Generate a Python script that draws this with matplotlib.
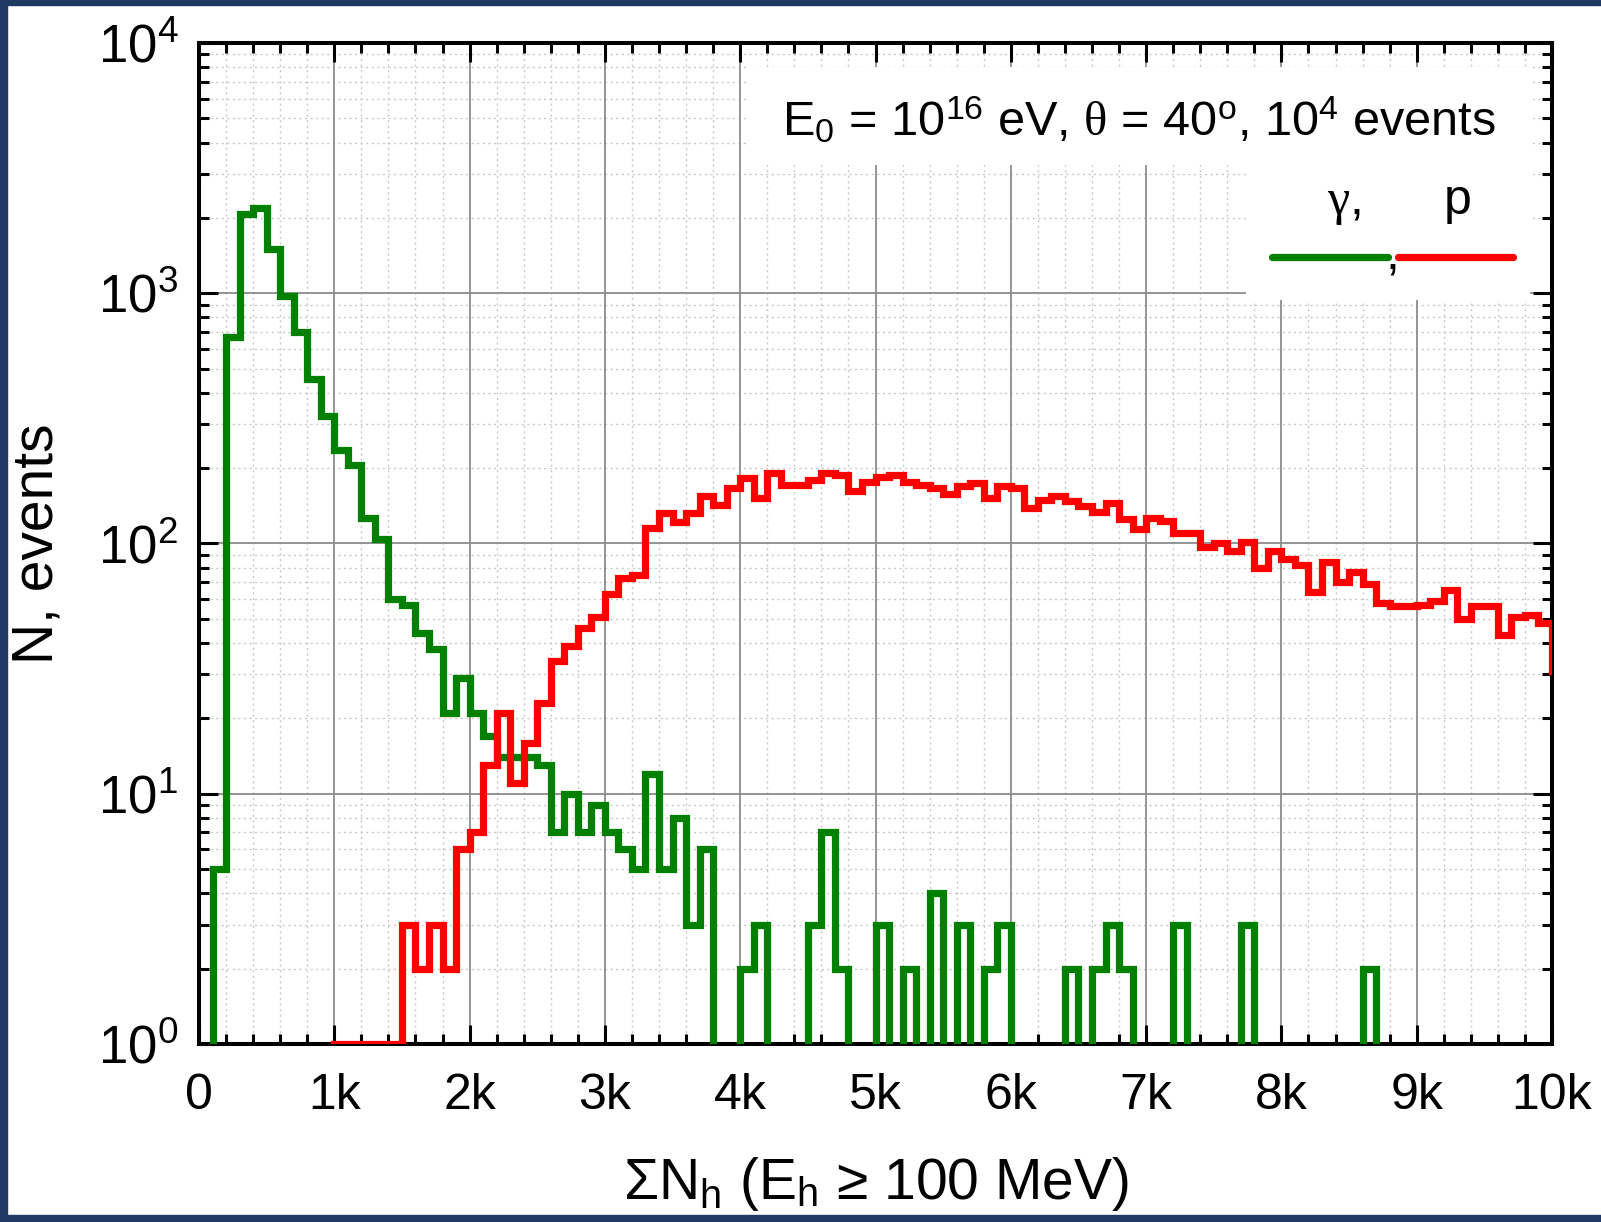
#!/usr/bin/env python3
# Distribution of hadron number sum for gamma and proton showers (log histogram).

import numpy as np
import matplotlib

matplotlib.use("Agg")
import matplotlib.pyplot as plt
from matplotlib.patches import Rectangle
from matplotlib.lines import Line2D
from matplotlib.ticker import FixedLocator, MultipleLocator, LogLocator, NullFormatter

plt.rcParams["font.family"] = ["Liberation Sans", "DejaVu Sans"]
plt.rcParams["mathtext.fontset"] = "custom"
plt.rcParams["mathtext.rm"] = "Liberation Sans"
plt.rcParams["mathtext.it"] = "Liberation Serif"
plt.rcParams["mathtext.bf"] = "Liberation Sans:bold"

# ---- data: counts per 100-wide bin, starting at 0 -----------------------
BIN_WIDTH = 100

gamma_counts = [
    0, 5, 670, 2080, 2190, 1500, 975, 700, 455, 324,          # 0 - 1k
    237, 205, 127, 104, 60, 57, 44, 38, 21, 29,                # 1k - 2k
    21, 17, 14, 14, 14, 13, 7, 10, 7, 9,                       # 2k - 3k
    7, 6, 5, 12, 5, 8, 3, 6, 0, 0,                             # 3k - 4k
    2, 3, 0, 0, 0, 3, 7, 2, 0, 0,                              # 4k - 5k
    3, 0, 2, 0, 4, 0, 3, 0, 2, 3,                              # 5k - 6k
    0, 0, 0, 0, 2, 0, 2, 3, 2, 0,                              # 6k - 7k
    0, 0, 3, 0, 0, 0, 0, 3, 0, 0,                              # 7k - 8k
    0, 0, 0, 0, 0, 0, 2, 0, 0, 0,                              # 8k - 9k
    0, 0, 0, 0, 0, 0, 0, 0, 0, 0,                              # 9k - 10k
    0,
]

proton_counts = [
    0, 0, 0, 0, 0, 0, 0, 0, 0, 0,                              # 0 - 1k
    1, 1, 1, 1, 1, 3, 2, 3, 2, 6,                              # 1k - 2k
    7, 13, 21, 11, 16, 23, 34, 39, 46, 51,                     # 2k - 3k
    63, 73, 75, 115, 132, 122, 132, 155, 143, 167,             # 3k - 4k
    183, 152, 191, 171, 172, 179, 192, 187, 162, 176,          # 4k - 5k
    185, 187, 176, 171, 167, 158, 169, 174, 152, 169,          # 5k - 6k
    167, 139, 149, 155, 148, 141, 133, 145, 125, 114,          # 6k - 7k
    127, 123, 110, 110, 97, 100, 93, 101, 80, 93,              # 7k - 8k
    87, 82, 64, 84, 70, 77, 69, 58, 56, 56,                    # 8k - 9k
    57, 59, 65, 50, 56, 56, 43, 51, 52, 48,                    # 9k - 10k
    31,
]

x_tick_values = [0, 1000, 2000, 3000, 4000, 5000, 6000, 7000, 8000, 9000, 10000]
x_tick_labels = ["0", "1k", "2k", "3k", "4k", "5k", "6k", "7k", "8k", "9k", "10k"]
y_tick_values = [1, 10, 100, 1000, 10000]
y_tick_labels = [r"$\mathrm{10^{0}}$", r"$\mathrm{10^{1}}$", r"$\mathrm{10^{2}}$",
                 r"$\mathrm{10^{3}}$", r"$\mathrm{10^{4}}$"]

GREEN = "#008000"
RED = "#ff0000"
FS = 36
LABEL_FS = 41
LW = 5.2


def main() -> None:
    fig = plt.figure(figsize=(16.01, 12.22), dpi=100)
    fig.patch.set_facecolor("white")

    # dark frame round the slide (left, top, bottom)
    navy = "#1f3864"
    fig.patches.append(Rectangle((0, 0), 7 / 1601, 1, transform=fig.transFigure, color=navy, zorder=10))
    fig.patches.append(Rectangle((0, 1 - 5 / 1222), 1, 5 / 1222, transform=fig.transFigure, color=navy, zorder=10))
    fig.patches.append(Rectangle((0, 0), 1, 7 / 1222, transform=fig.transFigure, color=navy, zorder=10))

    ax = fig.add_axes([0.1243, 0.1457, 0.8451, 0.8191])
    ax.set_yscale("log")
    ax.set_xlim(0, 10000)
    ax.set_ylim(1, 10000)

    edges = np.arange(len(gamma_counts) + 1) * BIN_WIDTH
    ax.stairs(gamma_counts, edges, baseline=None, color=GREEN, lw=LW, zorder=3)
    ax.stairs(proton_counts, edges, baseline=None, color=RED, lw=LW, zorder=3)

    # ticks
    ax.xaxis.set_major_locator(FixedLocator(x_tick_values))
    ax.set_xticklabels(x_tick_labels)
    ax.xaxis.set_minor_locator(MultipleLocator(200))
    ax.yaxis.set_major_locator(FixedLocator(y_tick_values))
    ax.set_yticklabels(y_tick_labels)
    ax.yaxis.set_minor_locator(LogLocator(base=10, subs=np.arange(2, 10)))
    ax.yaxis.set_minor_formatter(NullFormatter())
    ax.tick_params(which="both", direction="in", top=True, right=True, width=2.2)
    ax.tick_params(which="major", length=13.5)
    ax.tick_params(which="minor", length=7)
    ax.tick_params(axis="x", labelsize=FS, pad=21)
    ax.tick_params(axis="y", labelsize=38, pad=15)
    for sp in ax.spines.values():
        sp.set_linewidth(2.9)

    # grid lines drawn by hand so the white text boxes can hide them
    for xv in ax.get_xticks():
        if 0 < xv < 10000:
            ax.axvline(xv, color="#8c8c8c", lw=1.3, zorder=0.5)
    for xv in ax.xaxis.get_minorticklocs():
        if xv % 1000:
            ax.axvline(xv, color="#c8c8c8", lw=1.0, ls=(0, (1.5, 2.5)), zorder=0.4)
    for yv in ax.get_yticks():
        if 1 < yv < 10000:
            ax.axhline(yv, color="#8c8c8c", lw=1.3, zorder=0.5)
    for yv in ax.yaxis.get_minorticklocs():
        if 1 < yv < 10000:
            ax.axhline(yv, color="#c8c8c8", lw=1.0, ls=(0, (1.5, 2.5)), zorder=0.4)

    # white panels behind the annotation and the legend
    ax.add_patch(Rectangle((0.404, 0.878), 0.580, 0.098, transform=ax.transAxes,
                           facecolor="white", edgecolor="none", zorder=1))
    ax.add_patch(Rectangle((0.774, 0.743), 0.210, 0.140, transform=ax.transAxes,
                           facecolor="white", edgecolor="none", zorder=1))

    ax.text(0.9586, 0.908,
            r"$\mathrm{E_0}$ = 10$^{16}$ eV, $\theta$ = 40$^{\mathrm{o}}$, 10$^{4}$ events",
            transform=ax.transAxes, ha="right", va="baseline", fontsize=35, zorder=4)

    # legend in the Origin style: "γ, p" over two line samples
    ax.add_line(Line2D([0.793, 0.879], [0.786, 0.786], transform=ax.transAxes,
                       color=GREEN, lw=LW, solid_capstyle="round", zorder=4))
    ax.add_line(Line2D([0.886, 0.971], [0.786, 0.786], transform=ax.transAxes,
                       color=RED, lw=LW, solid_capstyle="round", zorder=4))
    ax.text(0.846, 0.829, r"$\gamma$,", transform=ax.transAxes, ha="center",
            va="baseline", fontsize=FS, zorder=4)
    ax.text(0.930, 0.829, "p", transform=ax.transAxes, ha="center",
            va="baseline", fontsize=FS, zorder=4)
    ax.text(0.882, 0.775, ",", transform=ax.transAxes, ha="center",
            va="baseline", fontsize=FS, zorder=4)

    ax.set_xlabel(r"$\Sigma\mathrm{N_h}$ (E$_\mathrm{h}$ ≥ 100 MeV)", fontsize=LABEL_FS, labelpad=26)
    ax.set_ylabel("N, events", fontsize=LABEL_FS, labelpad=24)

    fig.savefig("out.png", dpi=100, facecolor="white")


if __name__ == "__main__":
    main()
